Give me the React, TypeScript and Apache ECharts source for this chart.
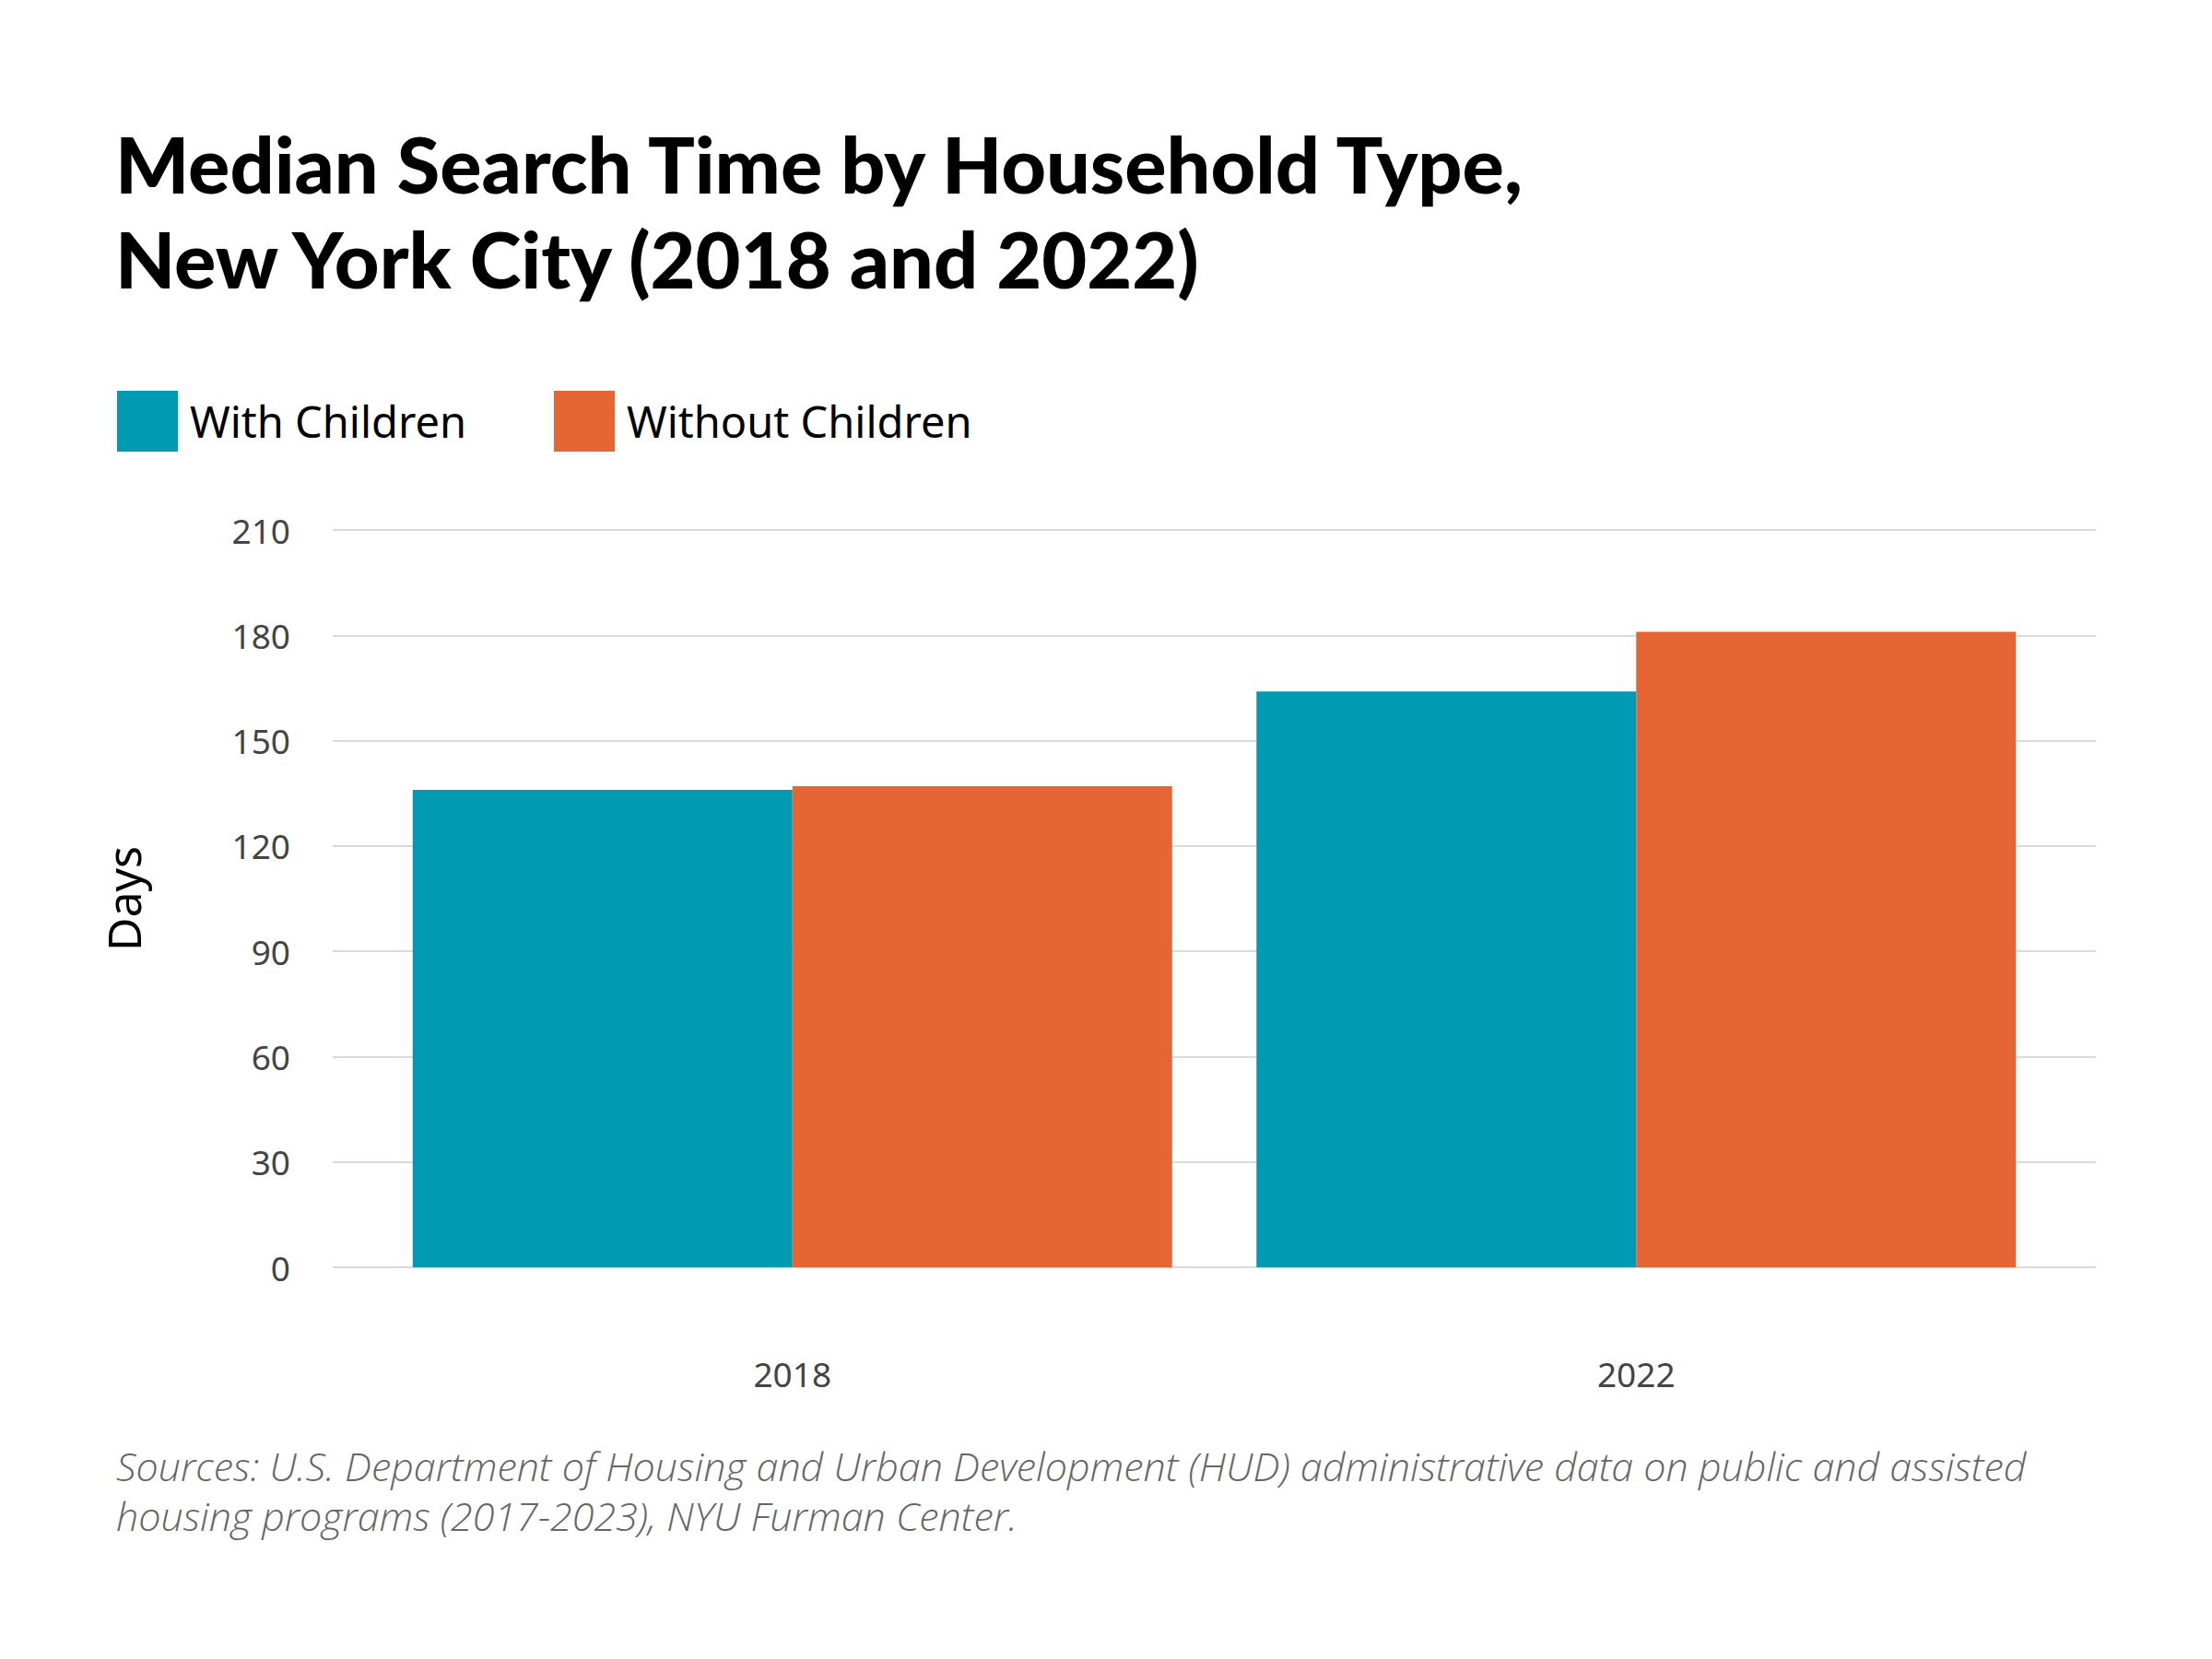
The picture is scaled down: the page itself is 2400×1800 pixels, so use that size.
import React, { useEffect, useRef } from "react";
import * as echarts from "echarts";

const categories = ["2018", "2022"];
const seriesNames = ["With Children", "Without Children"];
const withChildren = [136, 164];
const withoutChildren = [137, 181];
const seriesColors = ["#009AB3", "#E66535"];
const yTicks = { min: 0, max: 210, interval: 30 };
const titleLines = [
  "Median Search Time by Household Type,",
  "New York City (2018 and 2022)",
];
const sourceLines = [
  "Sources: U.S. Department of Housing and Urban Development (HUD) administrative data on public and assisted",
  "housing programs (2017-2023), NYU Furman Center.",
];
const yAxisName = "Days";

export default function App() {
  const ref = useRef<HTMLDivElement>(null);
  useEffect(() => {
    document.body.style.margin = "0";
    const chart = echarts.init(ref.current!, null, { renderer: "svg" });
    chart.setOption({
      animation: false,
      backgroundColor: "#ffffff",
      title: {
        text: titleLines.join("\n"),
        left: 125,
        top: 126,
        padding: 0,
        textStyle: {
          fontFamily: "Lato",
          fontWeight: 900,
          fontSize: 84.5,
          lineHeight: 103,
          color: "#000000",
        },
      },
      legend: {
        left: 127,
        top: 424,
        padding: 0,
        itemWidth: 66,
        itemHeight: 66,
        itemGap: 95,
        icon: "rect",
        data: seriesNames,
        textStyle: {
          fontFamily: "Noto Sans",
          fontSize: 47,
          color: "#000000",
          padding: [0, 0, 0, 8],
        },
      },
      grid: [
        { left: 361, right: 126, top: 575, bottom: 425 },
        { left: 402, right: 167, top: 575, bottom: 425 },
      ],
      xAxis: [
        {
          type: "category",
          gridIndex: 0,
          data: categories,
          show: false,
        },
        {
          type: "category",
          gridIndex: 1,
          data: categories,
          axisLine: { show: false },
          axisTick: { show: false },
          axisLabel: {
            fontFamily: "Noto Sans",
            fontSize: 37,
            color: "#444444",
            margin: 97,
          },
        },
      ],
      yAxis: [
        {
          type: "value",
          gridIndex: 0,
          min: yTicks.min,
          max: yTicks.max,
          interval: yTicks.interval,
          name: yAxisName,
          nameLocation: "middle",
          nameRotate: 90,
          nameGap: 202,
          nameTextStyle: {
            fontFamily: "Noto Sans",
            fontSize: 50,
            color: "#000000",
          },
          axisLine: { show: false },
          axisTick: { show: false },
          splitLine: { lineStyle: { color: "#d9d9d9", width: 2 } },
          axisLabel: {
            fontFamily: "Noto Sans",
            fontSize: 37,
            color: "#444444",
            margin: 46,
          },
        },
        {
          type: "value",
          gridIndex: 1,
          min: yTicks.min,
          max: yTicks.max,
          interval: yTicks.interval,
          show: false,
          splitLine: { show: false },
        },
      ],
      series: [
        {
          name: seriesNames[0],
          type: "bar",
          xAxisIndex: 1,
          yAxisIndex: 1,
          data: withChildren,
          itemStyle: { color: seriesColors[0] },
          barGap: "0%",
          barCategoryGap: "10%",
        },
        {
          name: seriesNames[1],
          type: "bar",
          xAxisIndex: 1,
          yAxisIndex: 1,
          data: withoutChildren,
          itemStyle: { color: seriesColors[1] },
          barGap: "0%",
          barCategoryGap: "10%",
        },
      ],
      graphic: [
        {
          type: "text",
          left: 126,
          top: 1563,
          style: {
            text: sourceLines.join("\n"),
            fontFamily: "Open Sans",
            fontStyle: "italic",
            fontWeight: 300,
            fontSize: 43,
            lineHeight: 54,
            fill: "#666666",
          },
        },
      ],
    });
    return () => chart.dispose();
  }, []);
  return <div ref={ref} style={{ width: 2400, height: 1800 }} />;
}
